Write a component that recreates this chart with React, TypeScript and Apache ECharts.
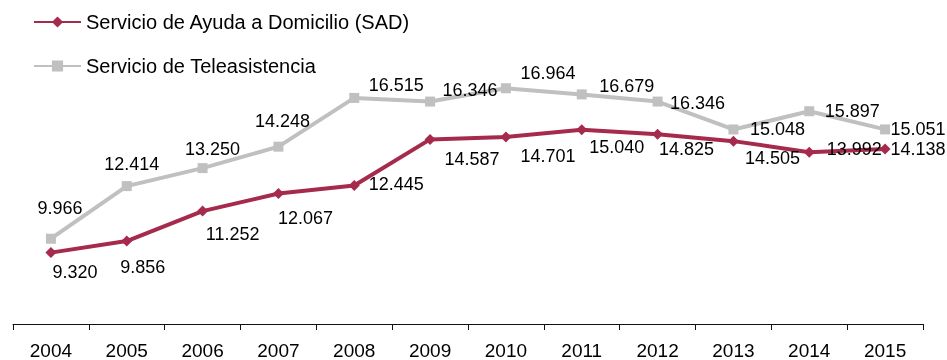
import React, { useEffect, useRef } from "react";
import * as echarts from "echarts";

const years = ["2004", "2005", "2006", "2007", "2008", "2009", "2010", "2011", "2012", "2013", "2014", "2015"];
const sadValues = [9320, 9856, 11252, 12067, 12445, 14587, 14701, 15040, 14825, 14505, 13992, 14138];
const teleValues = [9966, 12414, 13250, 14248, 16515, 16346, 16964, 16679, 16346, 15048, 15897, 15051];
const sadName = "Servicio de Ayuda a Domicilio (SAD)";
const teleName = "Servicio de Teleasistencia";

// label offsets (style): label centre relative to point
const sadLabelOffsets = [[24, 19], [16, 26], [30, 23], [27, 24], [42, -1], [42, 20], [42, 19], [35, 17], [29, 15], [39, 17], [45, -3], [33, 0]];
const teleLabelOffsets = [[9, -31], [5, -22], [10, -19], [4, -26], [42, -13], [40, -12], [42, -15], [45, -8], [40, 1], [44, 0], [43, 0], [33, 0]];

const fmt = (v: number) => {
  const s = Math.round(v).toString();
  return s.replace(/\B(?=(\d{3})+(?!\d))/g, ".");
};

const FONT = "'Liberation Sans', Arial, sans-serif";

export default function App() {
  const ref = useRef<HTMLDivElement>(null);
  useEffect(() => {
    if (!ref.current) return;
    const chart = echarts.init(ref.current, undefined, { renderer: "svg" });
    const mkData = (vals: number[], offs: number[][]) =>
      vals.map((v, i) => ({
        value: v,
        label: { offset: offs[i] },
      }));
    const labelBase = {
      show: true,
      position: "inside",
      align: "center",
      verticalAlign: "middle",
      color: "#000",
      fontSize: 18,
      fontFamily: FONT,
      formatter: (p: any) => fmt(p.value),
    };
    chart.setOption({
      animation: false,
      textStyle: { fontFamily: FONT },
      legend: {
        orient: "vertical",
        left: 33,
        top: 12,
        padding: 0,
        itemWidth: 47,
        itemHeight: 14,
        itemGap: 24,
        textStyle: { fontSize: 20, color: "#000", fontFamily: FONT },
        data: [sadName, teleName],
      },
      grid: { left: 13, right: 24, top: 23, bottom: 35 },
      xAxis: {
        type: "category",
        data: years,
        boundaryGap: true,
        axisLine: { show: true, lineStyle: { color: "#111", width: 1 } },
        axisTick: { show: true, length: 6, lineStyle: { color: "#111" } },
        axisLabel: { color: "#000", fontSize: 19, fontFamily: FONT, margin: 17 },
      },
      yAxis: {
        type: "value",
        min: 6000,
        max: 20000,
        show: false,
        splitLine: { show: false },
      },
      series: [
        {
          name: teleName,
          type: "line",
          data: mkData(teleValues, teleLabelOffsets),
          color: "#C0C0C0",
          symbol: "rect",
          symbolSize: 10,
          lineStyle: { width: 4, color: "#C0C0C0" },
          itemStyle: { color: "#C0C0C0" },
          label: labelBase,
          z: 2,
        },
        {
          name: sadName,
          type: "line",
          data: mkData(sadValues, sadLabelOffsets),
          color: "#A62A4C",
          symbol: "diamond",
          symbolSize: 11,
          lineStyle: { width: 4, color: "#A62A4C" },
          itemStyle: { color: "#A62A4C" },
          label: labelBase,
          z: 3,
        },
      ],
    });
    return () => chart.dispose();
  }, []);
  return (
    <div
      ref={ref}
      style={{ position: "fixed", left: 0, top: 0, width: 947, height: 360 }}
    />
  );
}
